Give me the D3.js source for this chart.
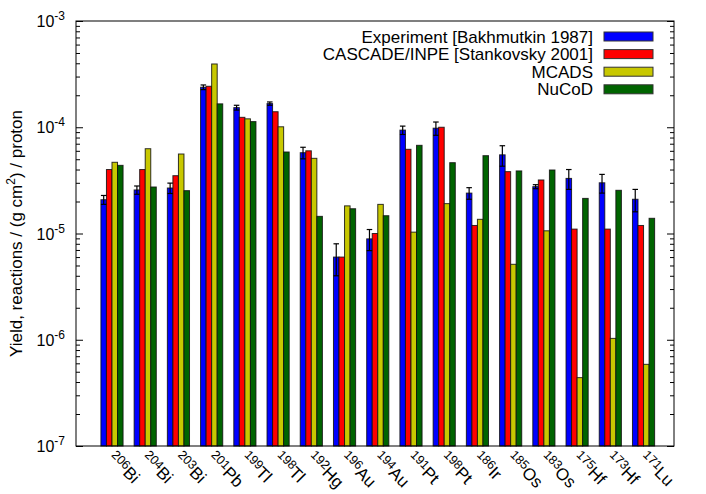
<!DOCTYPE html>
<html>
<head>
<meta charset="utf-8">
<script src="https://cdn.jsdelivr.net/npm/d3@7"></script>
<style>
  body { margin: 0; background: #fff; }
  text { font-family: "Liberation Sans", Arial, sans-serif; fill: #000; }
</style>
</head>
<body>
<div id="chart"></div>
<script>
// isotopes: mass number and element
var masses = ["206","204","203","201","199","198","192","196","194","191","198","186","185","183","175","173","171"];
var elements = ["Bi","Bi","Bi","Pb","Tl","Tl","Hg","Au","Au","Pt","Pt","Ir","Os","Os","Hf","Hf","Lu"];

// yields, reactions / (g cm2) / proton
var experiment = [2.08e-5, 2.57e-5, 2.68e-5, 2.38e-4, 1.53e-4, 1.67e-4, 5.76e-5, 6.0e-6, 8.9e-6, 9.4e-5, 9.8e-5, 2.4e-5, 5.5e-5, 2.76e-5, 3.3e-5, 3.0e-5, 2.1e-5];
var experimentErr = [0.2e-5, 0.23e-5, 0.3e-5, 0.12e-4, 0.08e-4, 0.06e-4, 0.72e-5, 2.0e-6, 2.0e-6, 0.85e-5, 1.4e-5, 0.3e-5, 1.2e-5, 0.12e-5, 0.7e-5, 0.6e-5, 0.5e-5];
var cascade = [4.0e-5, 4.0e-5, 3.5e-5, 2.43e-4, 1.24e-4, 1.40e-4, 6.0e-5, 6.0e-6, 1.0e-5, 6.2e-5, 1.0e-4, 1.19e-5, 3.82e-5, 3.19e-5, 1.1e-5, 1.1e-5, 1.19e-5];
var mcads = [4.68e-5, 6.28e-5, 5.6e-5, 3.94e-4, 1.2e-4, 1.01e-4, 5.1e-5, 1.82e-5, 1.88e-5, 1.03e-5, 1.91e-5, 1.36e-5, 5.13e-6, 1.06e-5, 4.4e-7, 1.03e-6, 5.87e-7];
var nucod = [4.38e-5, 2.74e-5, 2.53e-5, 1.66e-4, 1.13e-4, 5.85e-5, 1.45e-5, 1.71e-5, 1.47e-5, 6.76e-5, 4.64e-5, 5.4e-5, 3.88e-5, 3.96e-5, 2.14e-5, 2.55e-5, 1.39e-5];

var seriesNames = ["Experiment [Bakhmutkin 1987]", "CASCADE/INPE [Stankovsky 2001]", "MCADS", "NuCoD"];
var seriesColors = ["#0000ff", "#ff0000", "#c8c800", "#006400"];
var series = [experiment, cascade, mcads, nucod];

var W = 706, H = 494;
var margin = {top: 21, left: 76, bottom: 48, right: 32};

var svg = d3.select("#chart").append("svg")
  .attr("width", W).attr("height", H);
svg.append("rect").attr("width", W).attr("height", H).attr("fill", "#fff");

var x = d3.scaleLinear().domain([-1, 17]).range([margin.left, W - margin.right]);
var y = d3.scaleLog().domain([1e-7, 1e-3]).range([H - margin.bottom, margin.top]);

var barW = 1 / 6;

// bars
var g = svg.append("g");
series.forEach(function(vals, j) {
  g.selectAll(".s" + j)
    .data(vals)
    .enter().append("rect")
      .attr("x", function(d, i) { return x(i - 0.25 + j * barW); })
      .attr("width", x(barW) - x(0))
      .attr("y", function(d) { return y(d); })
      .attr("height", function(d) { return y(1e-7) - y(d); })
      .attr("fill", seriesColors[j])
      .attr("stroke", "#111")
      .attr("stroke-opacity", 0.85)
      .attr("stroke-width", 1);
});

// error bars on experiment
var eb = svg.append("g").attr("stroke", "#000").attr("stroke-width", 1.2);
experiment.forEach(function(d, i) {
  var x0 = x(i - 0.25), x1 = x(i - 0.25 + barW), xc = (x0 + x1) / 2;
  var lo = d - experimentErr[i], hi = d + experimentErr[i];
  eb.append("line").attr("x1", xc).attr("x2", xc).attr("y1", y(lo)).attr("y2", y(hi));
  eb.append("line").attr("x1", x0).attr("x2", x1).attr("y1", y(hi)).attr("y2", y(hi));
  eb.append("line").attr("x1", x0).attr("x2", x1).attr("y1", y(lo)).attr("y2", y(lo));
});

// frame
svg.append("rect")
  .attr("x", margin.left).attr("y", margin.top)
  .attr("width", W - margin.right - margin.left)
  .attr("height", H - margin.bottom - margin.top)
  .attr("fill", "none").attr("stroke", "#000").attr("stroke-width", 1);

// y ticks (major and minor, on both sides)
var majors = [1e-7, 1e-6, 1e-5, 1e-4, 1e-3];
var minors = [];
majors.slice(0, 4).forEach(function(m) { for (var k = 2; k <= 9; k++) minors.push(m * k); });

function ticks(axisFn, xpos, vals, len) {
  svg.append("g")
    .attr("transform", "translate(" + xpos + ",0)")
    .call(axisFn(y).tickValues(vals).tickSize(-len).tickFormat(""))
    .call(function(s) { s.select(".domain").remove(); });
}
ticks(d3.axisLeft, margin.left, majors, 7);
ticks(d3.axisLeft, margin.left, minors, 4);
ticks(d3.axisRight, W - margin.right, majors, 7);
ticks(d3.axisRight, W - margin.right, minors, 4);

var exps = ["-7", "-6", "-5", "-4", "-3"];
majors.forEach(function(m, k) {
  var t = svg.append("text")
    .attr("x", margin.left - 11).attr("y", y(m) + 6)
    .attr("text-anchor", "end")
    .style("font-size", "16px");
  t.append("tspan").text("10");
  t.append("tspan").attr("dy", -7).style("font-size", "12px").text(exps[k]);
});

// x labels, rotated
masses.forEach(function(m, i) {
  var t = svg.append("text")
    .attr("transform", "translate(" + (x(i) - 2) + "," + (H - margin.bottom + 13) + ") rotate(45)")
    .style("font-size", "17px");
  t.append("tspan").attr("dy", -5).style("font-size", "12.5px").text(m);
  t.append("tspan").attr("dy", 5).text(elements[i]);
});

// y label
var yl = svg.append("text")
  .attr("transform", "translate(22," + ((margin.top + H - margin.bottom) / 2) + ") rotate(-90)")
  .attr("text-anchor", "middle")
  .style("font-size", "17px");
yl.append("tspan").text("Yield, reactions / (g cm");
yl.append("tspan").attr("dy", -7).style("font-size", "12px").text("2");
yl.append("tspan").attr("dy", 7).text(") / proton");

// legend
var legend = svg.append("g");
seriesNames.forEach(function(name, j) {
  var cy = 36.5 + j * 17.6;
  legend.append("text")
    .attr("x", 593).attr("y", cy + 6)
    .attr("text-anchor", "end")
    .style("font-size", "17px")
    .text(name);
  legend.append("rect")
    .attr("x", 604).attr("y", cy - 4.5)
    .attr("width", 49).attr("height", 9)
    .attr("fill", seriesColors[j])
    .attr("stroke", "#333").attr("stroke-width", 1);
});
</script>
</body>
</html>
